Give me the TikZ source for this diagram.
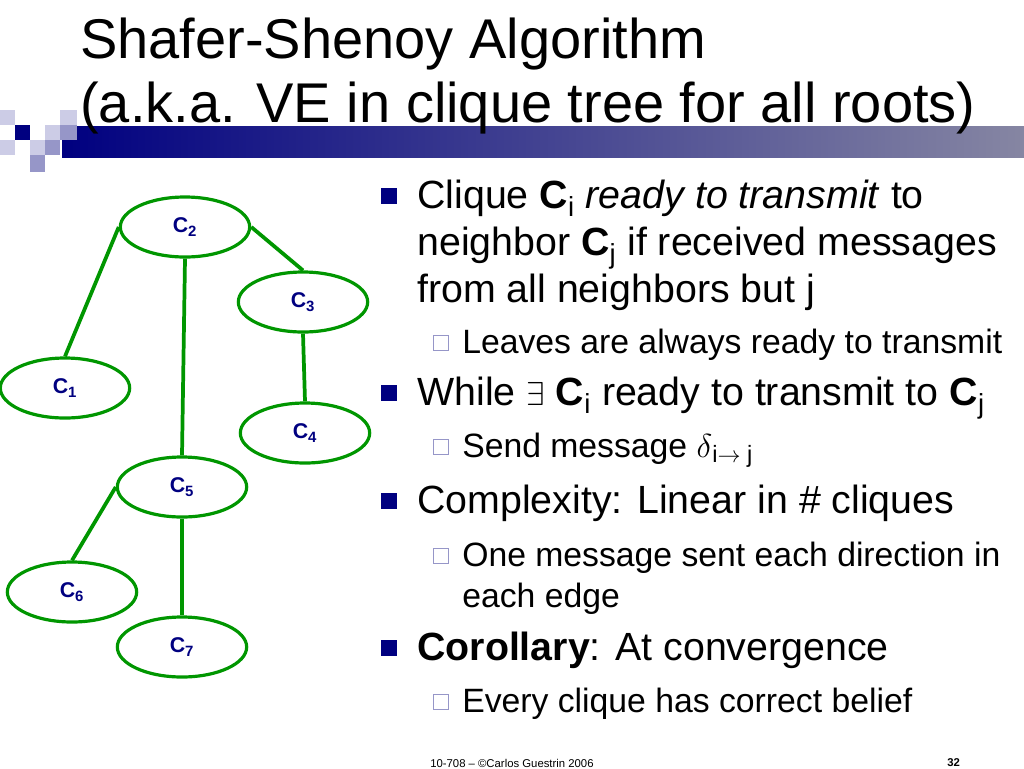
\documentclass[tikz,border=0pt]{standalone}
\usepackage{fontspec}
\setmainfont{Liberation Sans}
\usetikzlibrary{shapes.geometric, positioning, calc}
\definecolor{navy}{RGB}{0,0,128}
\definecolor{edgegreen}{RGB}{0,150,0}
\definecolor{pale}{RGB}{204,204,230}
\definecolor{mid}{RGB}{150,150,200}
\newcommand{\cq}[1]{\textbf{C}\textsubscript{\bfseries #1}}
\begin{document}
\begin{tikzpicture}[x=0.75pt, y=-0.75pt,
    clique/.style={ellipse, draw=edgegreen, line width=2.4pt, minimum width=97pt, minimum height=45pt, inner sep=0pt, text=navy, font=\fontsize{16}{18}\selectfont},
    link/.style={edgegreen, line width=2.8pt},
    line1/.style={anchor=base west, font=\fontsize{29.5}{34}\selectfont, inner sep=0pt},
    line2/.style={anchor=base west, font=\fontsize{25.3}{29}\selectfont, inner sep=0pt},
    bul1/.style={fill=navy, minimum size=12.5pt, inner sep=0pt},
    bul2/.style={draw=mid, line width=0.8pt, minimum size=11pt, inner sep=0pt}
]
    \useasboundingbox (0,0) rectangle (1024,768);
    % header decoration
    \shade[left color=navy, right color=white!55!navy!50!gray] (62,126) rectangle (1024,157);
    \fill[pale] (0,110) rectangle (15,125);
    \fill[pale] (60,110) rectangle (77,125);
    \fill[navy] (15,125) rectangle (30,140);
    \fill[pale] (45,125) rectangle (60,140);
    \fill[mid] (60,125) rectangle (77,140);
    \fill[pale] (0,140) rectangle (15,155);
    \fill[pale] (30,140) rectangle (45,155);
    \fill[mid] (45,140) rectangle (60,155);
    \fill[mid] (30,155) rectangle (45,172);
    % title
    \node[anchor=base west, inner sep=0pt, font=\fontsize{42}{50}\selectfont] (title1) at (80,58) {Shafer-Shenoy Algorithm};
    \node[anchor=base west, inner sep=0pt, font=\fontsize{42}{50}\selectfont] (title2) at (80,122) {(a.k.a. VE in clique tree for all roots)};

    % clique tree
    \node[clique] (c2) at (185,227) {\cq{2}};
    \node[clique] (c3) at (303,302) {\cq{3}};
    \node[clique] (c1) at (65,388) {\cq{1}};
    \node[clique] (c4) at (305,433) {\cq{4}};
    \node[clique] (c5) at (182,487) {\cq{5}};
    \node[clique] (c6) at (72,592) {\cq{6}};
    \node[clique] (c7) at (182,647) {\cq{7}};

    \draw[link] (c2.west) -- (c1.north);
    \draw[link] (c2.south) -- (c5.north);
    \draw[link] (c2.east) -- (c3.north);
    \draw[link] (c3.south) -- (c4.north);
    \draw[link] (c5.west) -- (c6.north);
    \draw[link] (c5.south) -- (c7.north);

    % bullets
    \node[bul1] (b1) at (389,196) {};
    \node[line1] (t1) at (417,208) {Clique \textbf{C}\textsubscript{i} \textit{ready to transmit} to};
    \node[line1] (t1b) at (417,255) {neighbor \textbf{C}\textsubscript{j} if received messages};
    \node[line1] (t1c) at (417,302) {from all neighbors but j};
    \node[bul2] (b1s) at (441,343) {};
    \node[line2] (t1s) at (462,353) {Leaves are always ready to transmit};
    \node[bul1] (b2) at (389,393) {};
    \node[line1] (t2) at (417,405) {While $\exists$ \textbf{C}\textsubscript{i} ready to transmit to \textbf{C}\textsubscript{j}};
    \node[bul2] (b2s) at (441,447) {};
    \node[line2] (t2s) at (462,457) {Send message $\delta$\textsubscript{i$\rightarrow$ j}};
    \node[bul1] (b3) at (389,501) {};
    \node[line1] (t3) at (417,513) {Complexity: Linear in \# cliques};
    \node[bul2] (b3s) at (441,556) {};
    \node[line2] (t3s) at (462,566) {One message sent each direction in};
    \node[line2] (t3t) at (462,607) {each edge};
    \node[bul1] (b4) at (389,648) {};
    \node[line1] (t4) at (417,660) {\textbf{Corollary}: At convergence};
    \node[bul2] (b4s) at (441,702) {};
    \node[line2] (t4s) at (462,712) {Every clique has correct belief};

    % footer
    \node[anchor=base west, inner sep=0pt, font=\fontsize{8.5}{10}\selectfont] (foot) at (430,767) {10-708 -- \copyright Carlos Guestrin 2006};
    \node[anchor=base west, inner sep=0pt, font=\bfseries\fontsize{8.5}{10}\selectfont] (page) at (947,766) {32};
\end{tikzpicture}
\end{document}
